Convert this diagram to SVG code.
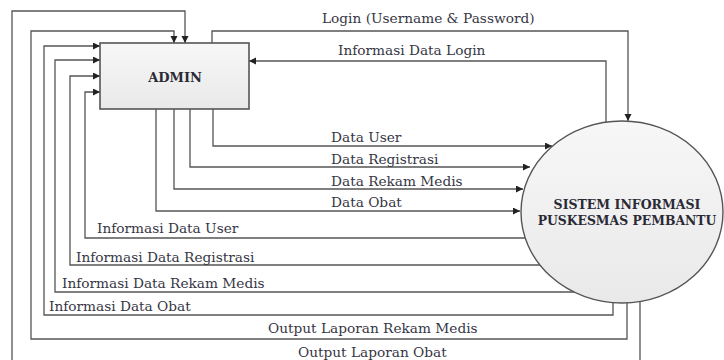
<svg xmlns="http://www.w3.org/2000/svg" width="724" height="360" viewBox="0 0 724 360">
<style>
.c{fill:none;stroke:#555;stroke-width:1.3}
.a{marker-end:url(#arr)}
.t{font-family:"DejaVu Serif","Liberation Serif",serif;font-size:13.7px;fill:#363644}
.b{font-family:"DejaVu Serif","Liberation Serif",serif;font-weight:bold;fill:#2a2a35;text-anchor:middle}
</style>
<defs>
<marker id="arr" markerUnits="userSpaceOnUse" markerWidth="8" markerHeight="8" refX="7" refY="3.5" orient="auto"><path d="M0,0 L7,3.5 L0,7 z" fill="#222"/></marker>
<linearGradient id="g" x1="0" y1="0" x2="0" y2="1"><stop offset="0" stop-color="#f7f7f7"/><stop offset="1" stop-color="#e9e9e9"/></linearGradient>
</defs>
<g id="connectors">
<path class="c a" d="M640,302 V362 H12 V11 H185 V43"/>
<path class="c a" d="M627,303 V339 H31 V31 H174 V43"/>
<path class="c a" d="M613,302 V315 H44 V46 H100"/>
<path class="c a" d="M574,292 H55 V60 H100"/>
<path class="c a" d="M540,265 H70 V76 H100"/>
<path class="c a" d="M525,238 H85 V92 H100"/>
<path class="c a" d="M212,43 V31 H628 V121"/>
<path class="c a" d="M606,122 V61 H249"/>
<path class="c a" d="M213,109 V146 H552"/>
<path class="c a" d="M190,109 V167 H530"/>
<path class="c a" d="M174,109 V189 H523"/>
<path class="c a" d="M156,109 V211 H520"/>
</g>
<g id="labels">
<text class="t" x="322" y="23">Login (Username &amp; Password)</text>
<text class="t" x="338" y="55">Informasi Data Login</text>
<text class="t" x="331" y="142">Data User</text>
<text class="t" x="331" y="164">Data Registrasi</text>
<text class="t" x="331" y="186">Data Rekam Medis</text>
<text class="t" x="331" y="207">Data Obat</text>
<text class="t" x="97" y="233">Informasi Data User</text>
<text class="t" x="76" y="262">Informasi Data Registrasi</text>
<text class="t" x="62" y="288">Informasi Data Rekam Medis</text>
<text class="t" x="49" y="311">Informasi Data Obat</text>
<text class="t" x="268" y="333">Output Laporan Rekam Medis</text>
<text class="t" x="298" y="357">Output Laporan Obat</text>
</g>
<g id="admin">
<rect x="100" y="43" width="149" height="66" fill="url(#g)" stroke="#555" stroke-width="1.6"/>
<text class="b" x="175" y="82" font-size="13">ADMIN</text>
</g>
<g id="sistem">
<ellipse cx="622" cy="212" rx="101" ry="91" fill="url(#g)" stroke="#555" stroke-width="1.4"/>
<text class="b" x="627" y="209" font-size="12.5">SISTEM INFORMASI</text>
<text class="b" x="627" y="225" font-size="12.4">PUSKESMAS PEMBANTU</text>
</g>
</svg>
